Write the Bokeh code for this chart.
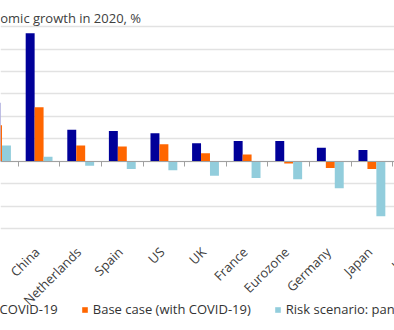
import math
from bokeh.plotting import figure
from bokeh.models import (Range1d, LinearAxis, FixedTicker, Grid, Legend, LegendItem,
                          Label, ColumnDataSource)
from bokeh.transform import dodge
from bokeh.core.properties import value
from bokeh.embed import file_html
from bokeh.resources import INLINE

countries = ["World", "China", "Netherlands", "Spain", "US", "UK", "France",
             "Eurozone", "Germany", "Japan", "Italy"]
pre_covid = [2.6, 5.7, 1.4, 1.35, 1.25, 0.8, 0.9, 0.9, 0.6, 0.5, 0.4]
base_case = [1.6, 2.4, 0.7, 0.65, 0.75, 0.35, 0.3, -0.1, -0.3, -0.35, -0.3]
risk_case = [0.7, 0.2, -0.2, -0.35, -0.4, -0.65, -0.75, -0.8, -1.2, -2.45, -1.5]
y_ticks = [-3, -2, -1, 0, 1, 2, 3, 4, 5, 6]
series_names = ["Pre-COVID-19", "Base case (with COVID-19)", "Risk scenario: pandemic"]
colors = ["#000099", "#FF6600", "#92CDDC"]

FONT = "Open Sans"
idx = list(range(len(countries)))
src = ColumnDataSource(dict(x=idx, pre=pre_covid, base=base_case, risk=risk_case,
                            name=countries, ylab=[min(y_ticks)] * len(countries)))

p = figure(width=394, height=330, output_backend="svg", toolbar_location=None,
           x_axis_location=None, y_axis_location=None,
           x_range=Range1d(0.072, 9.543), y_range=Range1d(-7.545, 7.162),
           min_border_left=0, min_border_right=0, min_border_top=0,
           min_border_bottom=0)
p.outline_line_color = None
p.background_fill_color = "white"
p.border_fill_color = "white"
for g in p.grid:
    g.visible = False

grid = Grid(dimension=1, ticker=FixedTicker(ticks=y_ticks),
            grid_line_color="#E2E2E2", grid_line_width=1.4)
p.add_layout(grid)

bw = 0.215
r1 = p.vbar(x=dodge("x", -bw, range=p.x_range), top="pre", bottom=0, width=bw,
            source=src, fill_color=colors[0], line_color=None)
r2 = p.vbar(x="x", top="base", bottom=0, width=bw,
            source=src, fill_color=colors[1], line_color=None)
r3 = p.vbar(x=dodge("x", bw, range=p.x_range), top="risk", bottom=0, width=bw,
            source=src, fill_color=colors[2], line_color=None)

# category labels, rotated, ending under each category
p.text(x="x", y="ylab", text="name", source=src, angle=math.pi / 4,
       text_align="right", text_baseline="middle", x_offset=-2, y_offset=21,
       text_font=value(FONT), text_font_size="13px", text_color="#404040")

# zero line with separators between categories
sep_ticks = [i + 0.5 for i in idx]
zero_axis = LinearAxis(fixed_location=0,
                       ticker=FixedTicker(ticks=sep_ticks),
                       major_label_overrides={t: "" for t in sep_ticks},
                       axis_line_color="#A0A0A0", axis_line_width=1,
                       major_tick_line_color="#A0A0A0", major_tick_in=0, major_tick_out=5,
                       minor_tick_line_color=None, major_label_standoff=0)
p.add_layout(zero_axis, "below")

legend = Legend(items=[LegendItem(label=series_names[0], renderers=[r1]),
                       LegendItem(label=series_names[1], renderers=[r2]),
                       LegendItem(label=series_names[2], renderers=[r3])],
                orientation="horizontal", location=(-37, 12),
                glyph_width=7, glyph_height=7, label_standoff=5, spacing=23,
                padding=0, margin=0, border_line_color=None,
                background_fill_alpha=0,
                label_text_font=FONT, label_text_font_size="13px",
                label_text_color="#333333")
p.add_layout(legend, "center")

title = Label(x=-29.5, y=313, x_units="screen", y_units="screen",
              text="Economic growth in 2020, %", text_font=FONT,
              text_font_size="13px", text_color="#404040",
              text_baseline="alphabetic")
p.add_layout(title)

open("out.html", "w").write(file_html(p, INLINE))
